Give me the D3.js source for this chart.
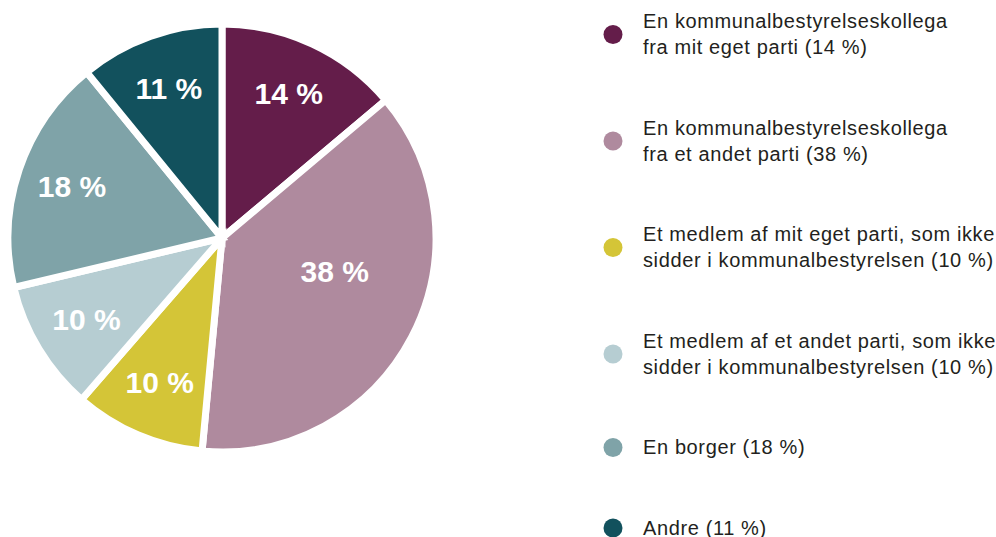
<!DOCTYPE html>
<html>
<head>
<meta charset="utf-8">
<script src="https://cdn.jsdelivr.net/npm/d3@7/dist/d3.min.js"></script>
<style>
    html, body { margin: 0; padding: 0; background: #fff; }
    svg { display: block; }
    .legend text { font-family: 'Liberation Sans', Arial, sans-serif; font-size: 20px; fill: #231f20; letter-spacing: 0.62px; }
    .label { font-family: 'Liberation Sans', Arial, sans-serif; font-size: 30px; font-weight: bold; fill: #fff; }
</style>
</head>
<body>
<div id="chart"></div>
<script>
var categories = [
    'En kommunalbestyrelseskollega\nfra mit eget parti',
    'En kommunalbestyrelseskollega\nfra et andet parti',
    'Et medlem af mit eget parti, som ikke\nsidder i kommunalbestyrelsen',
    'Et medlem af et andet parti, som ikke\nsidder i kommunalbestyrelsen',
    'En borger',
    'Andre',
];
var values = [14, 38, 10, 10, 18, 11];
var colors = ['#641d4a', '#af8a9e', '#d4c537', '#b6cdd2', '#7fa3a8', '#12515d'];

var width = 996;
var height = 537;
var radius = 214;
var cx = 222;
var cy = 238;

var data = categories.map((c, i) => ({ name: c, value: values[i], color: colors[i] }));

var svg = d3.select('#chart')
    .append('svg')
    .attr('width', width)
    .attr('height', height);

var pie = d3.pie().sort(null).value(d => d.value);
var arc = d3.arc().innerRadius(0).outerRadius(radius);

var g = svg.append('g').attr('transform', `translate(${cx}, ${cy})`);

var slices = pie(data);

g.selectAll('path.slice')
    .data(slices)
    .enter()
    .append('path')
    .attr('class', 'slice')
    .attr('d', arc)
    .attr('fill', d => d.data.color)
    .attr('stroke', '#fff')
    .attr('stroke-width', 7)
    .attr('stroke-linejoin', 'miter');

// big slices get their label nearer the middle
function labelPos(d) {
    var share = (d.endAngle - d.startAngle) / (2 * Math.PI);
    var r = share > 0.25 ? radius * 0.55 : radius * 0.74;
    var a = share > 0.25 ? d.startAngle + (d.endAngle - d.startAngle) * 0.42 : (d.startAngle + d.endAngle) / 2;
    return [r * Math.sin(a), -r * Math.cos(a)];
}

g.selectAll('text.label')
    .data(slices)
    .enter()
    .append('text')
    .attr('class', 'label')
    .attr('text-anchor', 'middle')
    .attr('dy', '0.33em')
    .attr('x', d => labelPos(d)[0])
    .attr('y', d => labelPos(d)[1])
    .text(d => `${d.data.value} %`);

// legend
var lineHeight = 26;
var itemGap = 80.5;
var legendX = 613;
var textX = 643;
var y = 28;
var legend = svg.append('g').attr('class', 'legend');

data.forEach(d => {
    var lines = d.name.split('\n');
    lines[lines.length - 1] += ` (${d.value} %)`;
    var item = legend.append('g');
    var mid = y + (lines.length - 1) * lineHeight / 2 - 6.5;
    item.append('circle')
        .attr('cx', legendX)
        .attr('cy', mid)
        .attr('r', 9.5)
        .attr('fill', d.color);
    item.selectAll('text')
        .data(lines)
        .enter()
        .append('text')
        .attr('x', textX)
        .attr('y', (l, i) => y + i * lineHeight)
        .text(l => l);
    y += (lines.length - 1) * lineHeight + itemGap;
});
</script>
</body>
</html>
